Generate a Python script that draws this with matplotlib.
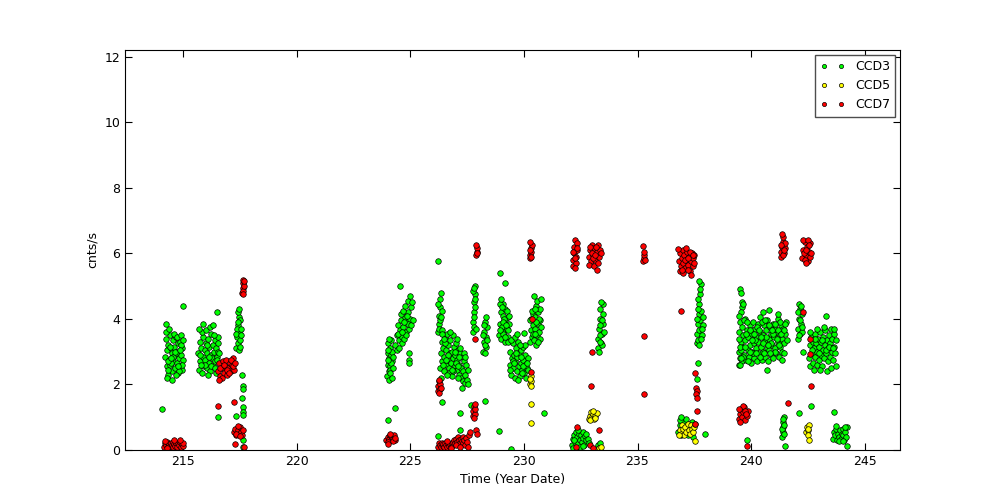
import numpy as np
import matplotlib
matplotlib.use("Agg")
import matplotlib.pyplot as plt

# CCD3 count rates (time in year date, cnts/s), grouped by observation
ccd3_pts = [
    # 214-215
    (214.22,2.85),(214.25,3.40),(214.28,2.55),(214.30,3.05),(214.33,2.30),(214.36,3.20),(214.38,2.75),(214.41,3.50),
    (214.44,2.60),(214.47,3.10),(214.50,2.40),(214.52,2.95),(214.55,3.35),(214.58,2.70),(214.61,3.15),(214.63,2.50),
    (214.66,2.90),(214.69,3.45),(214.72,2.65),(214.74,3.00),(214.77,2.35),(214.80,3.25),(214.83,2.80),(214.86,2.55),
    (214.88,3.30),(214.91,2.90),(214.94,2.45),(214.97,3.10),(215.00,2.75),(214.24,3.60),(214.31,2.20),(214.39,3.70),
    (214.46,2.65),(214.53,2.15),(214.60,3.55),(214.68,2.95),(214.75,3.45),(214.82,2.40),(214.90,3.50),(214.96,2.60),
    (214.27,3.85),(214.35,2.45),(214.43,3.15),(214.57,2.85),(214.65,3.00),(214.79,2.55),(214.93,3.20),(214.34,2.70),
    (214.49,2.80),(214.71,2.30),(214.85,3.05),(214.99,3.35),(214.08,1.25),(215.02,4.40),
    # 215.7-216.6
    (215.68,2.95),(215.71,2.45),(215.74,3.30),(215.77,2.70),(215.80,3.10),(215.83,2.35),(215.86,2.85),(215.89,3.45),
    (215.92,2.55),(215.95,3.05),(215.98,2.75),(216.01,3.25),(216.04,2.50),(216.07,2.95),(216.10,3.40),(216.13,2.65),
    (216.16,3.15),(216.19,2.40),(216.22,2.90),(216.25,3.55),(216.28,2.80),(216.31,3.20),(216.34,2.60),(216.37,3.00),
    (216.40,3.35),(216.43,2.70),(216.46,3.10),(216.49,2.85),(216.52,3.45),(216.55,3.00),(216.58,2.95),(215.75,2.90),
    (215.85,3.60),(215.95,2.60),(216.05,3.20),(216.15,2.85),(216.25,2.55),(216.35,3.50),(216.45,2.35),(216.55,3.25),
    (215.72,3.70),(215.90,3.85),(216.00,3.65),(216.20,3.75),(216.30,3.80),(216.10,2.30),(216.40,2.50),(215.80,2.60),
    (216.50,2.75),(216.48,4.20),(216.52,1.02),
    # 217.3-217.6
    (217.35,3.10),(217.38,3.45),(217.40,3.80),(217.42,3.25),(217.45,4.05),(217.47,3.60),(217.50,3.35),(217.52,3.95),
    (217.37,3.70),(217.43,4.20),(217.48,3.05),(217.55,3.70),(217.33,3.55),(217.46,4.30),(217.51,3.15),(217.40,3.90),
    (217.57,3.50),(217.58,2.30),(217.63,1.95),(217.62,1.85),(217.60,1.60),(217.63,1.30),(217.62,1.15),(217.64,1.07),
    (217.32,1.05),(217.62,0.30),(217.65,0.10),
    # 224-225
    (223.98,2.25),(224.00,2.60),(224.02,2.95),(224.04,3.25),(224.06,2.40),(224.08,2.80),(224.10,3.10),(224.12,2.55),
    (224.14,2.90),(224.16,3.35),(224.18,2.70),(224.20,3.00),(224.05,2.15),(224.10,2.45),(224.15,2.65),(224.22,2.50),
    (224.25,2.85),(224.00,3.05),(224.08,3.40),(224.13,2.35),(224.20,2.20),(224.02,2.75),
    (224.35,3.20),(224.40,3.50),(224.45,3.80),(224.50,3.35),(224.55,3.65),(224.60,3.95),(224.65,3.45),(224.70,3.75),
    (224.75,4.05),(224.80,3.60),(224.85,3.90),(224.90,4.20),(224.95,3.70),(225.00,4.00),(225.05,4.35),(224.42,3.05),
    (224.52,3.10),(224.62,3.25),(224.72,3.40),(224.82,3.50),(224.92,3.85),(225.02,3.80),(224.58,4.15),(224.68,4.25),
    (224.78,4.40),(224.88,4.55),(224.98,4.70),(225.08,4.50),(224.55,5.00),(224.95,2.95),(224.95,2.75),(224.95,2.65),
    (224.35,1.28),(224.00,0.90),(224.48,3.55),(224.63,3.60),(224.73,3.90),(224.87,4.10),(225.10,3.95),
    # 226-228.4
    (226.22,3.60),(226.25,3.85),(226.28,4.10),(226.30,4.35),(226.32,4.60),(226.35,4.80),(226.27,3.70),(226.33,3.95),
    (226.38,4.25),(226.24,4.45),(226.40,3.65),(226.20,5.75),(226.36,4.05),
    (226.32,2.50),(226.35,2.95),(226.38,3.30),(226.41,2.70),(226.44,3.10),(226.47,2.40),(226.50,2.85),(226.53,3.45),
    (226.56,2.60),(226.59,3.05),(226.62,3.55),(226.65,2.75),(226.68,3.20),(226.71,2.50),(226.74,2.95),(226.77,3.35),
    (226.80,2.65),(226.83,3.00),(226.86,3.50),(226.89,2.80),(226.92,3.15),(226.95,2.55),(226.98,2.90),(227.01,3.25),
    (227.04,2.45),(227.07,2.75),(227.10,3.05),(227.13,2.30),(227.16,2.60),(227.19,2.95),(227.22,2.20),(227.25,2.50),
    (227.28,2.85),(227.31,2.10),(227.34,2.40),(227.37,2.70),(227.40,2.05),(227.43,2.30),(227.46,2.60),(227.49,2.15),
    (227.52,2.45),(227.55,2.00),(226.40,3.55),(226.55,3.25),(226.70,2.35),(226.85,2.25),(227.00,2.65),(227.15,2.85),
    (226.45,2.60),(226.60,2.30),(226.75,3.60),(226.90,2.40),(227.05,3.40),(227.20,3.10),(227.35,2.95),(226.48,3.40),
    (226.66,2.90),(226.82,2.45),(227.12,2.55),(227.42,2.85),(226.36,2.20),(227.26,1.90),(226.58,2.75),(226.96,3.00),
    (227.08,2.20),
    (226.40,1.45),(227.20,1.13),(228.30,1.50),(227.20,0.60),(226.20,0.43),(228.90,0.58),(227.67,1.37),(229.45,0.03),
    (227.76,3.60),(227.78,3.90),(227.80,4.20),(227.82,4.50),(227.84,4.75),(227.86,5.00),(227.79,3.75),(227.81,4.05),
    (227.83,4.35),(227.85,4.60),(227.77,4.85),(227.88,3.70),(227.80,4.95),
    (228.20,3.00),(228.23,3.30),(228.26,3.60),(228.29,3.90),(228.32,3.15),(228.35,3.45),(228.38,3.75),(228.22,3.50),
    (228.28,3.20),(228.34,4.05),(228.30,2.95),(228.25,3.80),(228.36,3.35),
    # 229-230.8
    (228.92,3.50),(228.95,3.85),(228.98,4.20),(229.01,3.40),(229.04,3.75),(229.07,4.10),(229.10,4.45),(229.13,3.60),
    (229.16,3.95),(229.19,4.30),(229.22,3.35),(229.25,3.70),(229.28,4.05),(229.31,3.45),(229.34,3.85),(228.94,4.45),
    (229.00,4.60),(229.06,3.55),(229.12,4.00),(229.18,3.30),(229.24,4.25),(229.30,3.65),(229.36,4.10),(228.97,3.65),
    (229.09,3.90),(229.21,3.80),(229.03,4.35),(228.95,5.40),(229.15,5.10),(229.28,3.30),(229.15,3.45),
    (229.38,2.60),(229.41,3.00),(229.44,2.30),(229.47,2.80),(229.50,3.25),(229.53,2.50),(229.56,2.90),(229.59,2.20),
    (229.62,2.70),(229.65,3.10),(229.68,2.40),(229.71,2.85),(229.74,3.30),(229.77,2.55),(229.80,2.95),(229.83,2.25),
    (229.86,2.65),(229.89,3.05),(229.92,2.45),(229.95,2.75),(229.98,3.15),(230.01,2.35),(230.04,2.60),(230.07,2.90),
    (230.10,2.20),(230.13,2.50),(230.16,2.80),(229.45,3.35),(229.60,3.45),(229.75,2.15),(229.90,2.35),(230.05,3.20),
    (229.52,2.70),(229.67,2.95),(229.82,3.20),(229.97,2.55),(230.12,2.65),(229.40,2.45),(229.58,2.65),(229.88,2.85),
    (230.20,2.45),(229.70,3.55),
    (230.27,3.30),(230.30,3.65),(230.33,4.00),(230.36,3.45),(230.39,3.80),(230.42,4.15),(230.45,3.35),(230.48,3.70),
    (230.51,4.05),(230.54,4.40),(230.57,3.50),(230.60,3.85),(230.63,4.20),(230.66,3.60),(230.69,3.95),(230.72,4.30),
    (230.75,3.75),(230.29,3.95),(230.35,4.25),(230.41,3.55),(230.47,4.30),(230.53,3.20),(230.59,4.55),(230.65,4.00),
    (230.71,3.40),(230.77,4.60),(230.43,4.70),(230.55,3.90),(230.62,3.30),(230.50,3.55),(230.00,3.57),(230.90,1.13),
    # 232-233.6
    (232.12,0.15),(232.15,0.35),(232.18,0.05),(232.22,0.45),(232.25,0.25),(232.28,0.55),(232.32,0.10),(232.35,0.40),
    (232.38,0.20),(232.42,0.50),(232.45,0.30),(232.48,0.08),(232.52,0.45),(232.55,0.25),(232.58,0.38),(232.62,0.55),
    (232.65,0.15),(232.68,0.42),(232.72,0.30),(232.75,0.50),(232.80,0.35),(232.85,0.20),(232.20,0.30),(232.40,0.60),
    (232.60,0.12),(233.25,0.15),(233.30,0.05),(233.35,0.20),
    (233.25,3.10),(233.28,3.40),(233.31,3.70),(233.34,4.00),(233.37,4.30),(233.40,3.25),(233.43,3.55),(233.46,3.85),
    (233.49,4.15),(233.30,3.00),(233.36,3.50),(233.42,3.95),(233.48,4.45),(233.52,3.60),(233.33,3.80),(233.39,4.50),
    (233.45,3.20),(233.35,3.30),
    # 236.8-238
    (236.80,0.55),(236.85,0.75),(236.90,0.45),(236.95,0.65),(237.00,0.85),(237.05,0.50),(237.10,0.70),(237.15,0.95),
    (237.20,0.45),(237.25,0.60),(237.30,0.80),(237.35,0.50),(237.40,0.65),(237.45,0.40),(236.88,0.90),(237.02,0.60),
    (237.18,0.55),(237.28,0.70),(237.38,0.85),(236.92,1.00),(237.97,0.50),
    (237.60,3.25),(237.63,3.55),(237.66,3.85),(237.69,4.15),(237.72,4.45),(237.75,4.75),(237.78,5.05),(237.65,3.35),
    (237.70,3.65),(237.75,3.95),(237.80,4.25),(237.85,3.50),(237.88,3.80),(237.62,4.00),(237.68,4.60),(237.72,3.20),
    (237.82,3.70),(237.90,4.05),(237.76,4.90),(237.66,4.30),(237.80,3.40),(237.70,5.15),(237.65,2.65),(237.62,2.17),
    # 239.4-241.6
    (239.45,3.00),(239.48,3.60),(239.50,2.80),(239.52,3.90),(239.55,3.30),(239.58,2.70),(239.60,3.75),(239.63,3.15),
    (239.66,3.50),(239.69,2.90),(239.72,4.00),(239.75,3.35),(239.78,2.75),(239.81,3.65),(239.84,3.05),(239.87,3.45),
    (239.90,2.85),(239.93,3.80),(239.96,3.20),(239.99,2.65),(240.02,3.55),(240.05,3.00),(240.08,3.90),(240.11,3.25),
    (240.14,2.80),(240.17,3.70),(240.20,3.10),(240.23,3.45),(240.26,2.70),(240.29,3.85),(240.32,3.30),(240.35,2.95),
    (240.38,3.60),(240.41,4.05),(240.44,3.15),(240.47,2.75),(240.50,3.50),(240.53,3.00),(240.56,3.80),(240.59,3.35),
    (240.62,2.85),(240.65,3.65),(240.68,3.10),(240.71,3.95),(240.74,2.70),(240.77,3.40),(240.80,3.05),(240.83,3.75),
    (240.86,2.90),(240.89,3.55),(240.92,3.20),(240.95,3.85),(240.98,2.80),(241.01,3.45),(241.04,3.10),(241.07,3.70),
    (241.10,2.95),(241.13,3.60),(241.16,3.30),(241.19,4.00),(241.22,2.85),(241.25,3.50),(241.28,3.15),(241.31,3.80),
    (241.34,3.00),(241.37,3.40),(241.40,3.70),(241.43,2.95),(241.46,3.25),(241.50,3.55),(241.55,3.90),(241.58,3.35),
    (239.47,3.40),(239.57,3.05),(239.67,3.95),(239.77,3.55),(239.87,2.70),(239.97,3.65),(240.07,2.95),(240.17,3.35),
    (240.27,3.75),(240.37,2.85),(240.47,3.90),(240.57,2.95),(240.67,3.45),(240.77,3.80),(240.87,3.25),(240.97,3.55),
    (241.07,3.00),(241.17,3.65),(241.27,3.90),(241.37,2.75),(241.47,3.85),(239.53,3.15),(239.63,2.85),(239.73,3.15),
    (239.83,3.90),(239.93,3.00),(240.03,3.35),(240.13,3.55),(240.23,2.95),(240.33,3.65),(240.43,3.45),(240.53,3.25),
    (240.63,3.95),(240.73,3.20),(240.83,2.95),(240.93,3.65),(241.03,3.85),(241.13,3.40),(241.23,3.20),(241.33,3.55),
    (241.43,3.65),
    (239.50,4.90),(239.55,4.80),(239.58,4.50),(239.60,4.35),(239.55,4.20),(239.45,4.10),(239.62,4.45),(240.50,4.20),
    (240.80,4.27),(241.20,4.15),(239.45,2.60),(239.50,2.60),(240.70,2.45),(239.55,2.80),
    # 242-244.3
    (242.05,3.40),(242.08,3.70),(242.11,4.00),(242.14,4.30),(242.17,3.55),(242.20,3.85),(242.23,4.15),(242.10,4.45),
    (242.15,3.95),(242.25,3.60),(242.07,4.20),(242.18,4.40),(242.12,3.50),(242.22,3.75),(242.30,2.98),
    (242.55,2.80),(242.58,3.20),(242.61,2.55),(242.64,3.45),(242.67,2.95),(242.70,3.30),(242.73,2.65),(242.76,3.10),
    (242.79,3.55),(242.82,2.85),(242.85,3.25),(242.88,2.60),(242.91,3.00),(242.94,3.40),(242.97,2.75),(243.00,3.15),
    (243.03,3.60),(243.06,2.90),(243.09,3.30),(243.12,2.55),(243.15,3.05),(243.18,3.45),(243.21,2.80),(243.24,3.20),
    (243.27,3.65),(243.30,2.95),(243.33,3.35),(243.36,2.70),(243.39,3.10),(243.42,3.50),(243.45,2.85),(243.48,3.25),
    (243.51,3.70),(243.54,3.00),(243.57,3.40),(243.60,2.75),(243.63,3.15),(243.66,3.55),(243.70,2.95),(243.75,3.35),
    (242.60,3.60),(242.75,2.45),(242.90,3.70),(243.05,2.45),(243.20,3.75),(243.35,2.40),(243.50,2.50),(243.65,3.70),
    (243.75,2.55),(242.68,3.05),(242.83,3.40),(242.98,2.95),(243.13,3.35),(243.28,3.05),(243.43,3.15),(243.58,3.10),
    (243.30,4.10),
    (241.35,0.40),(241.38,0.55),(241.40,0.70),(241.42,0.85),(241.45,1.00),(241.37,0.65),(241.43,0.50),(241.40,0.95),
    (241.46,0.75),(241.48,0.12),(242.10,1.13),(242.65,1.35),(243.65,1.17),(239.80,0.30),(244.20,0.13),
    (243.62,0.35),(243.66,0.55),(243.70,0.45),(243.74,0.65),(243.78,0.30),(243.82,0.50),(243.86,0.40),(243.90,0.60),
    (243.94,0.35),(243.98,0.50),(244.02,0.45),(244.06,0.65),(244.10,0.30),(244.14,0.55),(244.18,0.40),(244.22,0.70),
    (243.72,0.72),(243.88,0.28),(244.04,0.28),(244.15,0.70),
]

ccd5_pts = [
    (230.28,2.00),(230.30,2.10),(230.32,2.25),(230.31,1.95),(230.29,2.18),(230.32,1.40),(230.30,0.83),
    (232.85,0.95),(232.90,1.05),(232.95,1.15),(233.00,1.00),(233.05,1.10),(233.10,0.95),(233.15,1.05),(233.20,1.12),
    (232.92,0.90),(233.02,1.18),(233.12,0.98),(233.30,0.05),(233.08,0.00),(233.40,0.10),
    (236.85,0.60),(236.90,0.50),(236.95,0.75),(237.00,0.65),(237.05,0.45),(237.10,0.70),(237.15,0.55),(237.20,0.80),
    (237.25,0.60),(237.30,0.50),(237.35,0.75),(237.40,0.65),(237.45,0.55),(237.50,0.70),(237.55,0.27),(237.55,0.80),
    (236.82,0.45),
    (242.40,0.55),(242.45,0.70),(242.50,0.60),(242.55,0.75),(242.48,0.45),(242.52,0.65),(242.55,0.30),
]

ccd7_pts = [
    (214.18,0.10),(214.22,0.20),(214.26,0.15),(214.30,0.25),(214.34,0.08),(214.38,0.18),(214.42,0.12),(214.46,0.22),
    (214.50,0.15),(214.54,0.10),(214.58,0.25),(214.62,0.18),(214.66,0.12),(214.70,0.20),(214.74,0.08),(214.78,0.22),
    (214.82,0.15),(214.86,0.25),(214.90,0.10),(214.94,0.18),(214.98,0.12),(215.02,0.20),(214.28,0.05),(214.60,0.30),
    (214.88,0.30),(214.20,0.28),
    (216.55,2.40),(216.60,2.65),(216.65,2.25),(216.70,2.50),(216.75,2.70),(216.80,2.35),(216.85,2.55),(216.90,2.75),
    (216.95,2.30),(217.00,2.50),(217.05,2.65),(217.10,2.40),(217.15,2.60),(217.20,2.80),(217.25,2.45),(216.62,2.50),
    (216.72,2.20),(216.82,2.60),(216.92,2.45),(217.02,2.35),(217.12,2.75),(217.22,2.55),(216.58,2.15),(217.28,2.65),
    (217.25,0.55),(217.30,0.65),(217.35,0.45),(217.40,0.60),(217.45,0.50),(217.50,0.70),(217.55,0.55),(217.60,0.45),
    (217.32,0.50),(217.42,0.72),(217.52,0.42),(217.62,0.62),
    (216.52,1.35),(217.25,1.47),(217.30,0.18),(217.68,0.10),
    (217.60,4.80),(217.62,4.95),(217.64,5.10),(217.66,4.85),(217.68,5.00),(217.63,5.20),(217.65,4.75),(217.67,5.15),
    (223.95,0.30),(224.00,0.40),(224.05,0.35),(224.10,0.45),(224.15,0.30),(224.20,0.40),(224.25,0.35),(224.30,0.45),
    (224.35,0.30),(224.02,0.25),(224.12,0.50),(224.22,0.28),(224.32,0.38),(224.00,0.18),
    (226.20,1.80),(226.23,1.95),(226.26,2.10),(226.29,1.85),(226.32,2.00),(226.25,1.75),(226.35,1.90),(226.28,2.15),
    (226.22,0.10),(226.26,0.20),(226.30,0.15),(226.34,0.08),(226.38,0.22),(226.42,0.12),(226.46,0.18),(226.50,0.10),
    (226.54,0.20),(226.58,0.14),(226.62,0.08),(226.66,0.22),(226.70,0.12),(226.74,0.18),(226.78,0.10),(226.82,0.20),
    (226.86,0.15),(226.90,0.25),(226.94,0.30),(226.98,0.20),(227.02,0.35),(227.06,0.25),(227.10,0.40),(227.14,0.30),
    (227.18,0.20),(227.22,0.35),(227.26,0.28),(227.30,0.40),(227.34,0.22),(227.38,0.32),(227.42,0.15),(227.46,0.38),
    (227.50,0.25),(227.55,0.10),(226.60,0.28),(226.80,0.05),(227.00,0.15),(227.20,0.10),(227.60,0.45),(227.65,0.55),
    (227.75,1.05),(227.78,1.20),(227.81,1.35),(227.84,1.10),(227.87,1.25),(227.80,0.98),(227.83,1.40),
    (227.90,5.95),(227.92,6.05),(227.94,6.15),(227.91,6.25),(227.93,6.00),
    (227.85,3.40),(227.90,0.60),(227.92,0.50),
    (230.25,5.85),(230.28,5.95),(230.30,6.05),(230.32,6.15),(230.34,6.25),(230.29,6.35),(230.27,6.10),(230.33,5.90),
    (230.35,4.00),(230.30,2.38),
    (232.15,5.60),(232.18,5.80),(232.20,6.00),(232.22,6.20),(232.25,6.40),(232.28,5.70),(232.30,5.90),(232.32,6.10),
    (232.35,6.30),(232.17,6.05),(232.27,5.55),(232.23,5.85),(232.33,6.15),
    (232.85,5.90),(232.90,6.10),(232.95,5.75),(233.00,6.25),(233.05,5.95),(233.10,6.15),(233.15,5.80),(233.20,6.05),
    (233.25,6.25),(233.30,5.90),(233.35,6.10),(232.88,5.65),(232.98,6.00),(233.08,5.60),(233.18,6.20),(233.28,5.70),
    (233.38,6.00),(233.02,5.85),(233.12,5.95),(233.22,5.50),(232.92,6.20),
    (235.25,5.75),(235.28,5.85),(235.30,5.95),(235.27,6.05),(235.32,5.80),(235.26,6.23),
    (235.30,3.48),(235.30,1.70),(233.00,3.00),(232.95,1.96),(232.35,0.70),(233.30,0.60),(232.30,0.10),(232.90,0.15),
    (233.05,0.05),
    (236.82,5.75),(236.86,6.00),(236.90,5.60),(236.94,5.85),(236.98,6.10),(237.02,5.70),(237.06,5.95),(237.10,5.55),
    (237.14,5.80),(237.18,6.05),(237.22,5.65),(237.26,5.90),(237.30,5.45),(237.34,5.75),(237.38,6.00),(237.42,5.60),
    (237.46,5.85),(237.50,5.95),(236.88,5.45),(237.00,5.40),(237.12,6.15),(237.24,5.50),(237.36,5.35),(237.48,5.70),
    (236.80,6.12),(236.95,5.50),(237.08,5.78),(237.20,5.85),(237.32,6.05),(237.44,5.95),
    (236.90,4.25),(237.55,2.35),(237.58,1.90),(237.60,1.80),(237.59,1.70),(237.62,1.60),(237.63,1.20),(237.55,0.80),
    (239.80,0.12),
    (239.45,0.95),(239.50,1.10),(239.55,1.25),(239.60,1.00),(239.65,1.15),(239.70,1.30),(239.75,0.90),(239.80,1.05),
    (239.85,1.20),(239.52,0.85),(239.62,1.35),(239.72,1.20),(239.48,1.25),(239.78,1.10),
    (241.30,5.90),(241.33,6.05),(241.36,6.20),(241.39,6.35),(241.42,6.50),(241.45,6.00),(241.48,6.15),(241.35,6.60),
    (241.40,5.95),(241.50,6.30),(241.32,6.25),(241.44,6.10),
    (242.25,5.85),(242.30,6.10),(242.35,6.35),(242.40,5.95),(242.45,6.20),(242.50,5.75),(242.55,6.05),(242.60,6.30),
    (242.28,6.40),(242.38,5.80),(242.48,6.40),(242.58,5.90),(242.33,6.00),(242.43,6.10),(242.53,6.25),(242.63,6.00),
    (242.40,5.70),
    (242.30,4.20),(242.60,3.40),(242.60,2.93),(242.65,1.96),(241.60,1.43),
]

series = [("CCD3", ccd3_pts, "lime"), ("CCD5", ccd5_pts, "yellow"), ("CCD7", ccd7_pts, "red")]

fig = plt.figure(figsize=(10, 5), dpi=100)
ax = fig.add_axes([0.125, 0.1, 0.775, 0.8])

for name, pts, col in series:
    arr = np.array(pts)
    ax.plot(arr[:, 0], arr[:, 1], linestyle="none", marker="o", ms=4, mfc=col,
            mec="black", mew=0.5, label=name)

ax.set_xlim(212.45, 246.55)
ax.set_ylim(0, 12.2)
ax.set_xticks([215, 220, 225, 230, 235, 240, 245])
ax.set_yticks([0, 2, 4, 6, 8, 10, 12])
ax.tick_params(direction="in", top=True, right=True, length=5, labelsize=9)
ax.set_xlabel("Time (Year Date)", fontsize=9)
ax.set_ylabel("cnts/s", fontsize=9)

leg = ax.legend(loc="upper right", numpoints=2, markerscale=0.75, fontsize=9,
                fancybox=False, framealpha=1, borderaxespad=0.4)
leg.get_frame().set_edgecolor("0.3")

fig.savefig("out.png", dpi=100)
